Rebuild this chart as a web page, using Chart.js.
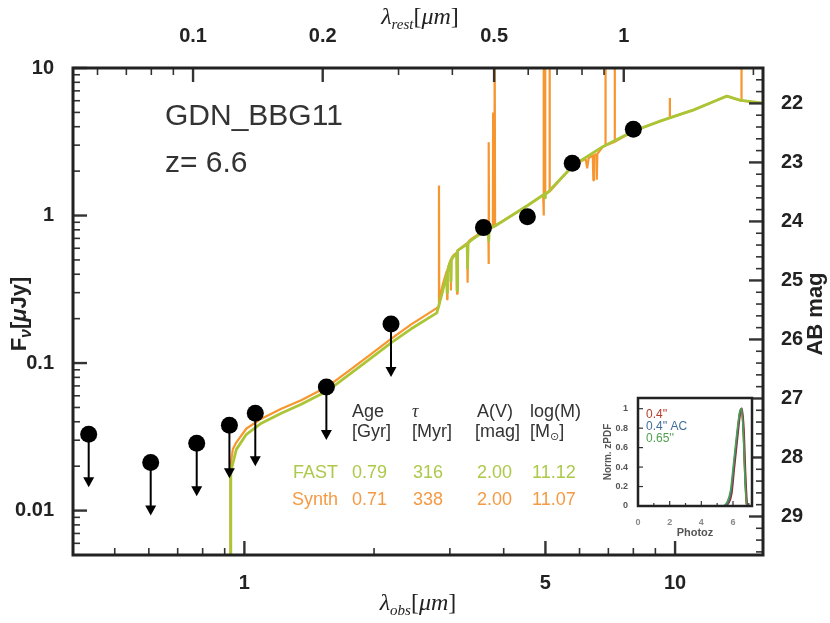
<!DOCTYPE html>
<html>
<head>
<meta charset="utf-8">
<title>GDN_BBG11 SED</title>
<script src="https://cdn.jsdelivr.net/npm/chart.js@4.4.1/dist/chart.umd.min.js"></script>
<style>
  html, body { margin:0; padding:0; background:#ffffff; }
  #wrap { position:relative; width:830px; height:623px; overflow:hidden; }
  #main { position:absolute; left:0; top:0; }
  #inset { position:absolute; left:600px; top:388px; }
</style>
</head>
<body>
<div id="wrap">
  <canvas id="main" width="830" height="623"></canvas>
  <canvas id="inset" width="160" height="152"></canvas>
</div>
<script>
// ------------------------------------------------------------------ data
const objectName = 'GDN_BBG11';
const redshift = 6.6;
const obsWaveRange = [0.4, 16];        // micron (observed)
const fluxRange = [0.005, 10];         // micro-Jy

// tick labels
const obsTickLabels = [1, 5, 10];
const restTickLabels = [0.1, 0.2, 0.5, 1];
const fluxTickLabels = [0.01, 0.1, 1, 10];
const magTickLabels = [22, 23, 24, 25, 26, 27, 28, 29];

// photometry (black points); upper limits carry arrows
const photWave = [0.435, 0.606, 0.775, 0.923, 1.06, 1.55, 2.19, 3.59, 4.54, 5.77, 8.0];
const photFlux = [0.0329, 0.0212, 0.0286, 0.0379, 0.0457, 0.0687, 0.184, 0.828, 0.98, 2.26, 3.85];
const photUpper = [true, true, true, true, true, true, true, false, false, false, false];

// FAST best-fit model (green)
const fastWave = [0.928, 0.930, 0.958, 1.011, 1.095, 1.218, 1.355, 1.557, 1.769, 1.968, 2.19, 2.435,
  2.798, 2.888, 2.95, 2.956, 2.962, 2.982, 3.011, 3.017, 3.023, 3.06, 3.111, 3.117, 3.123, 3.129,
  3.29, 3.298, 3.306, 3.354, 3.594, 3.686, 3.694, 3.702, 3.935, 4.544, 4.98, 4.99, 5.00, 5.054,
  5.807, 6.81, 7.99, 9.23, 11.01, 12.38, 13.19, 14.13, 15.99];
const fastFlux = [0.001, 0.0184, 0.0260, 0.0329, 0.0391, 0.0457, 0.0526, 0.0646, 0.0855, 0.108, 0.137, 0.170,
  0.219, 0.309, 0.40, 0.30, 0.41, 0.450, 0.49, 0.36, 0.50, 0.53, 0.55, 0.31, 0.56, 0.578,
  0.64, 0.44, 0.65, 0.676, 0.778, 0.80, 0.676, 0.81, 0.896, 1.17, 1.40, 1.32, 1.41, 1.43,
  2.19, 2.94, 3.73, 4.36, 5.18, 5.97, 6.45, 6.05, 5.78];

// Synthetic model with nebular lines (orange)
const synthWave = [0.926, 0.928, 0.940, 0.958, 1.011, 1.095, 1.218, 1.355, 1.557, 1.769, 1.968, 2.190, 2.435,
  2.790, 2.826, 2.830, 2.834, 2.860, 2.888, 2.950, 2.956, 2.962, 2.982, 3.011, 3.017, 3.023, 3.060,
  3.111, 3.117, 3.123, 3.129, 3.290, 3.298, 3.306, 3.354, 3.594, 3.686, 3.690, 3.694, 3.698,
  3.775, 3.780, 3.785, 3.800, 3.810, 3.820, 3.935, 4.544, 4.940, 4.950, 4.960, 4.970, 4.985, 4.990,
  4.995, 5.100, 5.110, 5.120, 5.807, 6.200, 6.250, 6.300, 6.440, 6.460, 6.480, 6.560, 6.580, 6.600,
  6.810, 6.880, 6.890, 6.900, 7.230, 7.240, 7.250, 7.990, 9.230, 9.710, 9.720, 9.730, 11.01, 12.38,
  13.19, 14.13, 14.25, 14.26, 14.27, 15.99];
const synthFlux = [0.001, 0.020, 0.026, 0.029, 0.036, 0.042, 0.049, 0.056, 0.069, 0.091, 0.115, 0.146, 0.182,
  0.235, 0.240, 1.60, 0.250, 0.300, 0.340, 0.420, 0.270, 0.430, 0.460, 0.500, 0.310, 0.510, 0.540,
  0.560, 0.294, 0.570, 0.580, 0.650, 0.350, 0.660, 0.690, 0.790, 0.810, 0.470, 3.14, 0.820,
  0.830, 5.00, 0.835, 0.840, 30, 0.845, 0.900, 1.170, 1.380, 1.000, 30, 1.390, 1.390, 30,
  1.395, 1.450, 30, 1.455, 2.200, 2.420, 2.090, 2.450, 2.550, 1.730, 2.560, 2.600, 1.750, 2.620,
  2.940, 2.970, 30, 2.980, 3.150, 30, 3.160, 3.730, 4.360, 4.600, 6.250, 4.610, 5.180, 5.970,
  6.450, 6.050, 6.000, 30, 6.000, 5.780];

// fit parameters table
const paramNames = ['Age', 'τ', 'A(V)', 'log(M)'];
const paramUnits = ['[Gyr]', '[Myr]', '[mag]', '[M'];
const fitNames = ['FAST', 'Synth'];
const fastParams = ['0.79', '316', '2.00', '11.12'];
const synthParams = ['0.71', '338', '2.00', '11.07'];

// inset: normalised photo-z PDFs
const apertureLabels = ["0.4''", "0.4'' AC", "0.65''"];
const pdfZ04 = [5.50, 5.70, 5.90, 6.05, 6.25, 6.45, 6.56, 6.67, 6.77, 6.88, 6.95];
const pdf04 = [0, 0.03, 0.13, 0.37, 0.68, 0.96, 1.0, 0.78, 0.34, 0.02, 0];
const pdfZ04AC = [5.48, 5.68, 5.88, 6.04, 6.24, 6.44, 6.55, 6.66, 6.76, 6.87, 6.94];
const pdf04AC = [0, 0.03, 0.14, 0.38, 0.69, 0.96, 1.0, 0.78, 0.34, 0.02, 0];
const pdfZ065 = [5.40, 5.62, 5.84, 6.00, 6.20, 6.41, 6.53, 6.64, 6.74, 6.85, 6.92];
const pdf065 = [0, 0.04, 0.16, 0.39, 0.69, 0.96, 1.0, 0.78, 0.34, 0.02, 0];
const zpdfXTicks = [0, 2, 4, 6];
const zpdfYTicks = [0, 0.2, 0.4, 0.6, 0.8, 1];
const zpdfRange = [0, 7.2];

// ------------------------------------------------------------------ styles
const ORANGE = '#f7952f';
const GREEN = '#aac636';
const FAST_TXT = '#acc94a';
const SYNTH_TXT = '#f49a44';
const SANS = "'Liberation Sans', Arial, sans-serif";
const SERIF = "'Liberation Serif', 'DejaVu Serif', serif";
Chart.defaults.font.family = SANS;

const toXY = (xs, ys) => xs.map((v, i) => ({ x: v, y: ys[i] }));
const magOf = f => 23.9 - 2.5 * Math.log10(f);
const tickFont = { family: SANS, size: 20, weight: 'bold' };

function drawRich(ctx, parts, x, y, align) {
  let total = 0;
  parts.forEach(p => { ctx.font = p.font; p.w = ctx.measureText(p.t).width; total += p.w; });
  let cx = align === 'center' ? x - total / 2 : (align === 'right' ? x - total : x);
  parts.forEach(p => {
    ctx.font = p.font;
    if (p.color) ctx.fillStyle = p.color;
    ctx.fillText(p.t, cx, y + (p.dy || 0));
    cx += p.w;
  });
}

function logTicks(min, max) {
  const out = [];
  for (let d = Math.floor(Math.log10(min)); d <= Math.ceil(Math.log10(max)); d++) {
    for (let k = 1; k < 10; k++) {
      const v = k * Math.pow(10, d);
      if (v >= min * 0.9999 && v <= max * 1.0001) out.push(v);
    }
  }
  return out;
}
const isIn = (arr, v) => arr.some(m => Math.abs(m - v) / Math.abs(m || 1) < 1e-6);

const MAJ = 14, MIN = 7;

const mainDecor = {
  id: 'mainDecor',
  beforeDraw(chart) {
    const c = chart.ctx;
    c.save(); c.fillStyle = '#fff'; c.fillRect(0, 0, chart.width, chart.height); c.restore();
  },
  afterDatasetsDraw(chart) {
    const { ctx, scales: { x, y } } = chart;
    const ARROW_LEN = 53;
    ctx.save();
    ctx.strokeStyle = '#000'; ctx.fillStyle = '#000'; ctx.lineWidth = 2;
    photWave.forEach((w, i) => {
      if (!photUpper[i]) return;
      const px = x.getPixelForValue(w), py = y.getPixelForValue(photFlux[i]);
      const tip = py + ARROW_LEN;
      ctx.beginPath(); ctx.moveTo(px, py); ctx.lineTo(px, tip - 8); ctx.stroke();
      ctx.beginPath(); ctx.moveTo(px - 5.5, tip - 10); ctx.lineTo(px + 5.5, tip - 10); ctx.lineTo(px, tip); ctx.closePath(); ctx.fill();
    });
    ctx.restore();
  },
  afterDraw(chart) {
    const { ctx, chartArea: a, scales } = chart;
    ctx.save();
    ctx.strokeStyle = '#333'; ctx.lineCap = 'butt';
    const seg = (x1, y1, x2, y2, w) => { ctx.lineWidth = w; ctx.beginPath(); ctx.moveTo(x1, y1); ctx.lineTo(x2, y2); ctx.stroke(); };
    // bottom (observed)
    logTicks(obsWaveRange[0], obsWaveRange[1]).forEach(v => {
      const p = scales.x.getPixelForValue(v); const mj = isIn(obsTickLabels, v);
      seg(p, a.bottom, p, a.bottom - (mj ? MAJ : MIN), mj ? 2.4 : 1.6);
    });
    // top (rest)
    const rMin = obsWaveRange[0] / (1 + redshift), rMax = obsWaveRange[1] / (1 + redshift);
    logTicks(rMin, rMax).forEach(v => {
      const p = scales.xTop.getPixelForValue(v); const mj = isIn(restTickLabels, v);
      seg(p, a.top, p, a.top + (mj ? MAJ : MIN), mj ? 2.4 : 1.6);
    });
    // left (flux)
    logTicks(fluxRange[0], fluxRange[1]).forEach(v => {
      const p = scales.y.getPixelForValue(v); const mj = isIn(fluxTickLabels, v);
      seg(a.left, p, a.left + (mj ? MAJ : MIN), p, mj ? 2.4 : 1.6);
    });
    // right (AB mag)
    const m0 = magOf(fluxRange[1]), m1 = magOf(fluxRange[0]);
    for (let k = Math.ceil(m0 * 5); k <= Math.floor(m1 * 5); k++) {
      const m = k / 5; const p = scales.yMag.getPixelForValue(m); const mj = (k % 5 === 0);
      seg(a.right, p, a.right - (mj ? MAJ : MIN), p, mj ? 2.4 : 1.6);
    }
    // frame
    ctx.strokeStyle = '#222'; ctx.lineWidth = 3;
    ctx.strokeRect(a.left, a.top, a.right - a.left, a.bottom - a.top);

    // annotations
    ctx.textAlign = 'left'; ctx.textBaseline = 'alphabetic';
    ctx.fillStyle = '#333';
    ctx.font = `30px ${SANS}`;
    ctx.fillText(objectName, 165, 125);
    ctx.fillText('z= ' + redshift.toFixed(1), 165, 172);

    // table
    const hx = [352, 412, 477, 530];
    const ux = [352, 412, 475, 530];
    const vx = [352, 413, 477, 532];
    const f18 = `18px ${SANS}`;
    paramNames.forEach((t, i) => {
      ctx.fillStyle = '#333';
      ctx.font = t === 'τ' ? `italic 18px ${SERIF}` : f18;
      ctx.fillText(t, hx[i], 417);
    });
    paramUnits.forEach((t, i) => {
      ctx.fillStyle = '#333';
      if (i === 3) {
        drawRich(ctx, [{ t: '[M', font: f18 }, { t: '⊙', font: `11px 'DejaVu Sans'`, dy: 3 }, { t: ']', font: f18 }], ux[i], 437, 'left');
      } else { ctx.font = f18; ctx.fillText(t, ux[i], 437); }
    });
    [[fastParams, FAST_TXT, 478], [synthParams, SYNTH_TXT, 505]].forEach(([vals, col, yy], r) => {
      ctx.fillStyle = col; ctx.font = f18;
      ctx.textAlign = 'right'; ctx.fillText(fitNames[r], 338, yy);
      ctx.textAlign = 'left';
      vals.forEach((v, i) => ctx.fillText(v, vx[i], yy));
    });

    // axis titles
    ctx.fillStyle = '#222';
    const it24 = `italic 24px ${SERIF}`, rm24 = `24px ${SERIF}`, sub = `italic 15px ${SERIF}`;
    drawRich(ctx, [{ t: 'λ', font: it24 }, { t: 'obs', font: sub, dy: 5 }, { t: '[', font: rm24 }, { t: 'μm', font: it24 }, { t: ']', font: rm24 }], 418, 610, 'center');
    drawRich(ctx, [{ t: 'λ', font: it24 }, { t: 'rest', font: sub, dy: 5 }, { t: '[', font: rm24 }, { t: 'μm', font: it24 }, { t: ']', font: rm24 }], 420, 24, 'center');

    const b22 = `bold 22px ${SANS}`;
    ctx.save();
    ctx.translate(26, 314); ctx.rotate(-Math.PI / 2);
    drawRich(ctx, [{ t: 'F', font: b22 }, { t: 'ν', font: `bold italic 16px ${SANS}`, dy: 5 }, { t: '[', font: b22 }, { t: 'μ', font: `bold italic 22px ${SANS}` }, { t: 'Jy]', font: b22 }], 0, 0, 'center');
    ctx.restore();

    ctx.save();
    ctx.translate(822, 314); ctx.rotate(-Math.PI / 2);
    ctx.font = b22; ctx.textAlign = 'center';
    ctx.fillText('AB mag', 0, 0);
    ctx.restore();

    ctx.restore();
  }
};

new Chart(document.getElementById('main'), {
  type: 'scatter',
  data: {
    datasets: [
      { label: 'Synth', data: toXY(synthWave, synthFlux), showLine: true, borderColor: ORANGE, borderWidth: 2.2,
        pointRadius: 0, order: 3, xAxisID: 'x', yAxisID: 'y', borderJoinStyle: 'bevel' },
      { label: 'FAST', data: toXY(fastWave, fastFlux), showLine: true, borderColor: GREEN, borderWidth: 2.8,
        pointRadius: 0, order: 2, xAxisID: 'x', yAxisID: 'y', borderJoinStyle: 'round' },
      { label: 'Photometry', data: toXY(photWave, photFlux), showLine: false, pointRadius: 8.5,
        pointBackgroundColor: '#000', pointBorderWidth: 0, order: 1, xAxisID: 'x', yAxisID: 'y' }
    ]
  },
  options: {
    responsive: false, animation: false, devicePixelRatio: 1,
    layout: { padding: 0 },
    plugins: { legend: { display: false }, tooltip: { enabled: false } },
    scales: {
      x: {
        type: 'logarithmic', position: 'bottom', min: obsWaveRange[0], max: obsWaveRange[1],
        afterFit: s => { s.height = 68; },
        afterBuildTicks: s => { s.ticks = obsTickLabels.map(v => ({ value: v })); },
        ticks: { font: tickFont, color: '#222', padding: 8, autoSkip: false, maxRotation: 0, callback: v => String(v) },
        grid: { display: false }, border: { display: false }
      },
      xTop: {
        type: 'logarithmic', position: 'top',
        min: obsWaveRange[0] / (1 + redshift), max: obsWaveRange[1] / (1 + redshift),
        afterFit: s => { s.height = 68; },
        afterBuildTicks: s => { s.ticks = restTickLabels.map(v => ({ value: v })); },
        ticks: { font: tickFont, color: '#222', padding: 12, autoSkip: false, maxRotation: 0, callback: v => String(v) },
        grid: { display: false }, border: { display: false }
      },
      y: {
        type: 'logarithmic', position: 'left', min: fluxRange[0], max: fluxRange[1],
        afterFit: s => { s.width = 73; },
        afterBuildTicks: s => { s.ticks = fluxTickLabels.map(v => ({ value: v })); },
        ticks: { font: tickFont, color: '#222', padding: 11, autoSkip: false, callback: v => String(v) },
        grid: { display: false }, border: { display: false }
      },
      yMag: {
        type: 'linear', position: 'right', reverse: true,
        min: magOf(fluxRange[1]), max: magOf(fluxRange[0]),
        afterFit: s => { s.width = 67; },
        afterBuildTicks: s => { s.ticks = magTickLabels.map(v => ({ value: v })); },
        ticks: { font: tickFont, color: '#222', padding: 10, autoSkip: false, callback: v => String(v) },
        grid: { display: false }, border: { display: false }
      }
    }
  },
  plugins: [mainDecor]
});

// ------------------------------------------------------------------ inset
const insetDecor = {
  id: 'insetDecor',
  beforeDatasetsDraw(chart) {
    const { ctx, chartArea: a } = chart;
    ctx.save(); ctx.fillStyle = '#fff'; ctx.fillRect(a.left, a.top, a.right - a.left, a.bottom - a.top); ctx.restore();
  },
  afterDraw(chart) {
    const { ctx, chartArea: a, scales } = chart;
    ctx.save();
    ctx.strokeStyle = '#333';
    const seg = (x1, y1, x2, y2, w) => { ctx.lineWidth = w; ctx.beginPath(); ctx.moveTo(x1, y1); ctx.lineTo(x2, y2); ctx.stroke(); };
    for (let z = 0; z <= zpdfRange[1]; z += 1) {
      const p = scales.x.getPixelForValue(z); const mj = z % 2 === 0;
      seg(p, a.bottom, p, a.bottom - (mj ? 5 : 3), 1.2);
    }
    zpdfYTicks.forEach(v => { const p = scales.y.getPixelForValue(v); seg(a.left, p, a.left + 5, p, 1.2); });
    ctx.strokeStyle = '#222'; ctx.lineWidth = 2.5;
    ctx.strokeRect(a.left, a.top, a.right - a.left, a.bottom - a.top);
    ctx.font = `12px ${SANS}`; ctx.textAlign = 'left'; ctx.textBaseline = 'alphabetic';
    const cols = ['#b83a2a', '#3f6f9c', '#4f9f4f'];
    apertureLabels.forEach((t, i) => { ctx.fillStyle = cols[i]; ctx.fillText(t, a.left + 8, a.top + 20 + i * 12); });
    ctx.restore();
  }
};

new Chart(document.getElementById('inset'), {
  type: 'scatter',
  data: {
    datasets: [
      { data: toXY(pdfZ065, pdf065), showLine: true, borderColor: '#4f9f4f', borderWidth: 1.5, pointRadius: 0, cubicInterpolationMode: 'monotone' },
      { data: toXY(pdfZ04AC, pdf04AC), showLine: true, borderColor: '#3f6f9c', borderWidth: 1.5, pointRadius: 0, cubicInterpolationMode: 'monotone' },
      { data: toXY(pdfZ04, pdf04), showLine: true, borderColor: '#a3200f', borderWidth: 2.4, pointRadius: 0, cubicInterpolationMode: 'monotone' }
    ]
  },
  options: {
    responsive: false, animation: false, devicePixelRatio: 1,
    layout: { padding: { left: 0, top: 10, right: 8, bottom: 0 } },
    plugins: { legend: { display: false }, tooltip: { enabled: false } },
    scales: {
      x: {
        type: 'linear', min: zpdfRange[0], max: zpdfRange[1],
        afterFit: s => { s.height = 34; },
        afterBuildTicks: s => { s.ticks = zpdfXTicks.map(v => ({ value: v })); },
        grid: { display: false }, border: { display: false },
        ticks: { font: { family: SANS, size: 9, weight: 'bold' }, color: '#888', padding: 3, maxRotation: 0, autoSkip: false, callback: v => String(v) },
        title: { display: true, text: 'Photoz', font: { family: SANS, size: 11, weight: 'bold' }, color: '#555', padding: 0 }
      },
      y: {
        type: 'linear', min: 0, max: 1.11,
        afterFit: s => { s.width = 38; },
        afterBuildTicks: s => { s.ticks = zpdfYTicks.map(v => ({ value: v })); },
        grid: { display: false }, border: { display: false },
        ticks: { font: { family: SANS, size: 9, weight: 'bold' }, color: '#555', padding: 2, autoSkip: false, callback: v => String(v) },
        title: { display: true, text: 'Norm. zPDF', font: { family: SANS, size: 10, weight: 'bold' }, color: '#555', padding: { top: 2, bottom: 0 } }
      }
    }
  },
  plugins: [insetDecor]
});
</script>
</body>
</html>
